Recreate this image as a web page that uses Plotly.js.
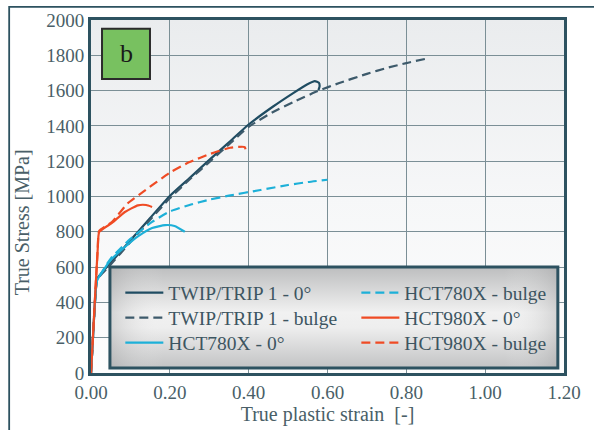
<!DOCTYPE html>
<html>
<head>
<meta charset="utf-8">
<script src="https://cdn.plot.ly/plotly-3.0.1.min.js"></script>
<style>
  html, body { margin: 0; padding: 0; background: #ffffff; }
  #wrap { position: relative; width: 594px; height: 430px; }
  #bg { position: absolute; left: 91px; top: 20px; width: 473px; height: 353px;
        background: linear-gradient(to bottom, #eaecee 0%, #f6f7f8 50%, #fdfdfd 100%); }
  #chart { position: absolute; left: 0; top: 0; width: 594px; height: 430px; }
</style>
</head>
<body>
<div id="wrap"><div id="bg"></div><div id="chart"></div></div>
<script>
// ---- data ----
const seriesNames = ["TWIP/TRIP 1 - 0°", "TWIP/TRIP 1 - bulge", "HCT780X - 0°",
                     "HCT780X - bulge", "HCT980X - 0°", "HCT980X - bulge"];

const twip0_x = [0, 0.005, 0.01, 0.015, 0.019, 0.05, 0.1, 0.15, 0.2, 0.25, 0.294, 0.35, 0.4, 0.462, 0.513, 0.548, 0.568, 0.578, 0.58, 0.577];
const twip0_y = [0, 200, 400, 530, 546, 625, 752, 878, 1003, 1104, 1195, 1307, 1408, 1510, 1586, 1635, 1654, 1645, 1625, 1603];

const twipB_x = [0, 0.005, 0.01, 0.015, 0.019, 0.05, 0.1, 0.15, 0.2, 0.25, 0.3, 0.35, 0.4, 0.462, 0.513, 0.576, 0.63, 0.7, 0.75, 0.8, 0.847];
const twipB_y = [0, 200, 400, 525, 540, 615, 742, 868, 990, 1096, 1195, 1295, 1395, 1479, 1535, 1598, 1643, 1695, 1728, 1756, 1779];

const hct780_0_x = [0, 0.005, 0.01, 0.014, 0.019, 0.05, 0.086, 0.12, 0.155, 0.188, 0.212, 0.238];
const hct780_0_y = [0, 200, 400, 515, 540, 640, 714, 775, 821, 838, 833, 800];

const hct780_B_x = [0, 0.005, 0.01, 0.014, 0.019, 0.05, 0.1, 0.155, 0.2, 0.25, 0.3, 0.35, 0.43, 0.5, 0.55, 0.6];
const hct780_B_y = [0, 200, 400, 515, 540, 648, 760, 856, 915, 952, 982, 1005, 1037, 1065, 1082, 1095];

const hct980_0_x = [0, 0.006, 0.012, 0.017, 0.021, 0.053, 0.086, 0.119, 0.14, 0.155];
const hct980_0_y = [0, 250, 500, 700, 800, 850, 912, 950, 952, 941];

const hct980_B_x = [0, 0.006, 0.012, 0.017, 0.021, 0.053, 0.094, 0.132, 0.2, 0.25, 0.302, 0.353, 0.39, 0.393];
const hct980_B_y = [0, 250, 500, 700, 805, 855, 963, 1026, 1135, 1195, 1241, 1276, 1280, 1252];

const xTicks = [0, 0.2, 0.4, 0.6, 0.8, 1.0, 1.2];
const xTickText = ["0.00", "0.20", "0.40", "0.60", "0.80", "1.00", "1.20"];
const yTicks = [0, 200, 400, 600, 800, 1000, 1200, 1400, 1600, 1800, 2000];

// ---- styles ----
const C_TWIP = "#1f4c62", C_TWIPB = "#3d5a6b", C_780 = "#1db0d8", C_980 = "#ef4b24";
const serif = "Liberation Serif";
const DASH = "9px,5px";
const TXT = "#4a5f68";

function ln(color, dash) {
  const o = {color: color, width: 2.2, shape: "spline", smoothing: 0.5};
  if (dash) o.dash = dash;
  return o;
}

const traces = [
  {x: twip0_x, y: twip0_y, name: seriesNames[0], legend: "legend", line: ln(C_TWIP)},
  {x: twipB_x, y: twipB_y, name: seriesNames[1], legend: "legend2", line: ln(C_TWIPB, DASH)},
  {x: hct780_0_x, y: hct780_0_y, name: seriesNames[2], legend: "legend3", line: ln(C_780)},
  {x: hct780_B_x, y: hct780_B_y, name: seriesNames[3], legend: "legend4", line: ln(C_780, DASH)},
  {x: hct980_0_x, y: hct980_0_y, name: seriesNames[4], legend: "legend5", line: ln(C_980)},
  {x: hct980_B_x, y: hct980_B_y, name: seriesNames[5], legend: "legend6", line: ln(C_980, DASH)}
].map(t => Object.assign({type: "scatter", mode: "lines"}, t));

const legendSvg = "<svg xmlns='http://www.w3.org/2000/svg' width='200' height='100' preserveAspectRatio='none'>" +
  "<defs><linearGradient id='g' x1='0' y1='0' x2='0' y2='1'>" +
  "<stop offset='0' stop-color='#bdbebf'/><stop offset='0.45' stop-color='#f1f1f1'/>" +
  "<stop offset='0.6' stop-color='#eeeeee'/><stop offset='1' stop-color='#c2c3c4'/></linearGradient>" +
  "<linearGradient id='h' x1='0' y1='0' x2='1' y2='0'>" +
  "<stop offset='0' stop-color='#9a9b9c' stop-opacity='0.35'/><stop offset='0.12' stop-color='#ffffff' stop-opacity='0'/>" +
  "<stop offset='0.88' stop-color='#ffffff' stop-opacity='0'/><stop offset='1' stop-color='#9a9b9c' stop-opacity='0.35'/></linearGradient></defs>" +
  "<rect width='200' height='100' fill='url(#g)'/><rect width='200' height='100' fill='url(#h)'/></svg>";
const legendImg = "data:image/svg+xml;charset=utf-8," + encodeURIComponent(legendSvg);

const L = {x0: 0.040, x1: 0.987, y0: 0.014, y1: 0.300};
const legFont = {family: serif, size: 19.5, color: "#3d5561"};
const colX = [0.062, 0.561];
const rowY = [0.2266, 0.1558, 0.085];

function leg(col, row) {
  return {orientation: "v", x: colX[col], y: rowY[row], xanchor: "left", yanchor: "middle", itemwidth: 38,
          bgcolor: "rgba(0,0,0,0)", borderwidth: 0, font: legFont};
}

const layout = {
  width: 594, height: 430,
  margin: {l: 91, r: 30, t: 20, b: 57},
  paper_bgcolor: "rgba(0,0,0,0)",
  plot_bgcolor: "rgba(0,0,0,0)",
  font: {family: serif, color: TXT, size: 18},
  showlegend: true,
  xaxis: {
    range: [0, 1.2], tickvals: xTicks, ticktext: xTickText,
    showgrid: true, gridcolor: "#7b8f96", gridwidth: 1.4, zeroline: false,
    showline: true, mirror: true, linecolor: "#2d5260", linewidth: 3,
    ticks: "", tickfont: {family: serif, size: 19, color: TXT},
    title: {text: "True plastic strain  [-]", font: {family: serif, size: 20, color: TXT}, standoff: 2}
  },
  yaxis: {
    range: [0, 2000], tickvals: yTicks,
    showgrid: true, gridcolor: "#7b8f96", gridwidth: 1.4, zeroline: false,
    showline: true, mirror: true, linecolor: "#2d5260", linewidth: 3,
    ticks: "", tickfont: {family: serif, size: 19, color: TXT}
  },
  legend: leg(0, 0), legend2: leg(0, 1), legend3: leg(0, 2),
  legend4: leg(1, 0), legend5: leg(1, 1), legend6: leg(1, 2),
  images: [{
    source: legendImg, xref: "paper", yref: "paper",
    x: L.x0, y: L.y1, sizex: L.x1 - L.x0, sizey: L.y1 - L.y0,
    xanchor: "left", yanchor: "top", sizing: "stretch", layer: "above"
  }],
  shapes: [
    {type: "rect", xref: "paper", yref: "paper", x0: L.x0, x1: L.x1, y0: L.y0, y1: L.y1,
     line: {color: "#2d5260", width: 3}, layer: "above"},
    {type: "rect", xref: "paper", yref: "paper", x0: -0.173, x1: 1.3, y0: -0.4, y1: 1.037,
     line: {color: "#2d5260", width: 1.8}, layer: "below"},
    {type: "rect", xref: "paper", yref: "paper", x0: 0.0233, x1: 0.1247, y0: 0.833, y1: 0.975,
     line: {color: "#2b2b2b", width: 2}, fillcolor: "#78c160", layer: "above"}
  ],
  annotations: [
    {text: "b", xref: "paper", yref: "paper", x: 0.074, y: 0.904, xanchor: "center", yanchor: "middle",
     showarrow: false, font: {family: serif, size: 26, color: "#1a1a1a"}},
    {text: "True Stress [MPa]", xref: "paper", yref: "paper", x: -0.145, y: 0.428,
     xanchor: "center", yanchor: "middle", textangle: -90, showarrow: false,
     font: {family: serif, size: 20, color: TXT}}
  ]
};

Plotly.newPlot("chart", traces, layout, {displayModeBar: false, responsive: false});
</script>
</body>
</html>
